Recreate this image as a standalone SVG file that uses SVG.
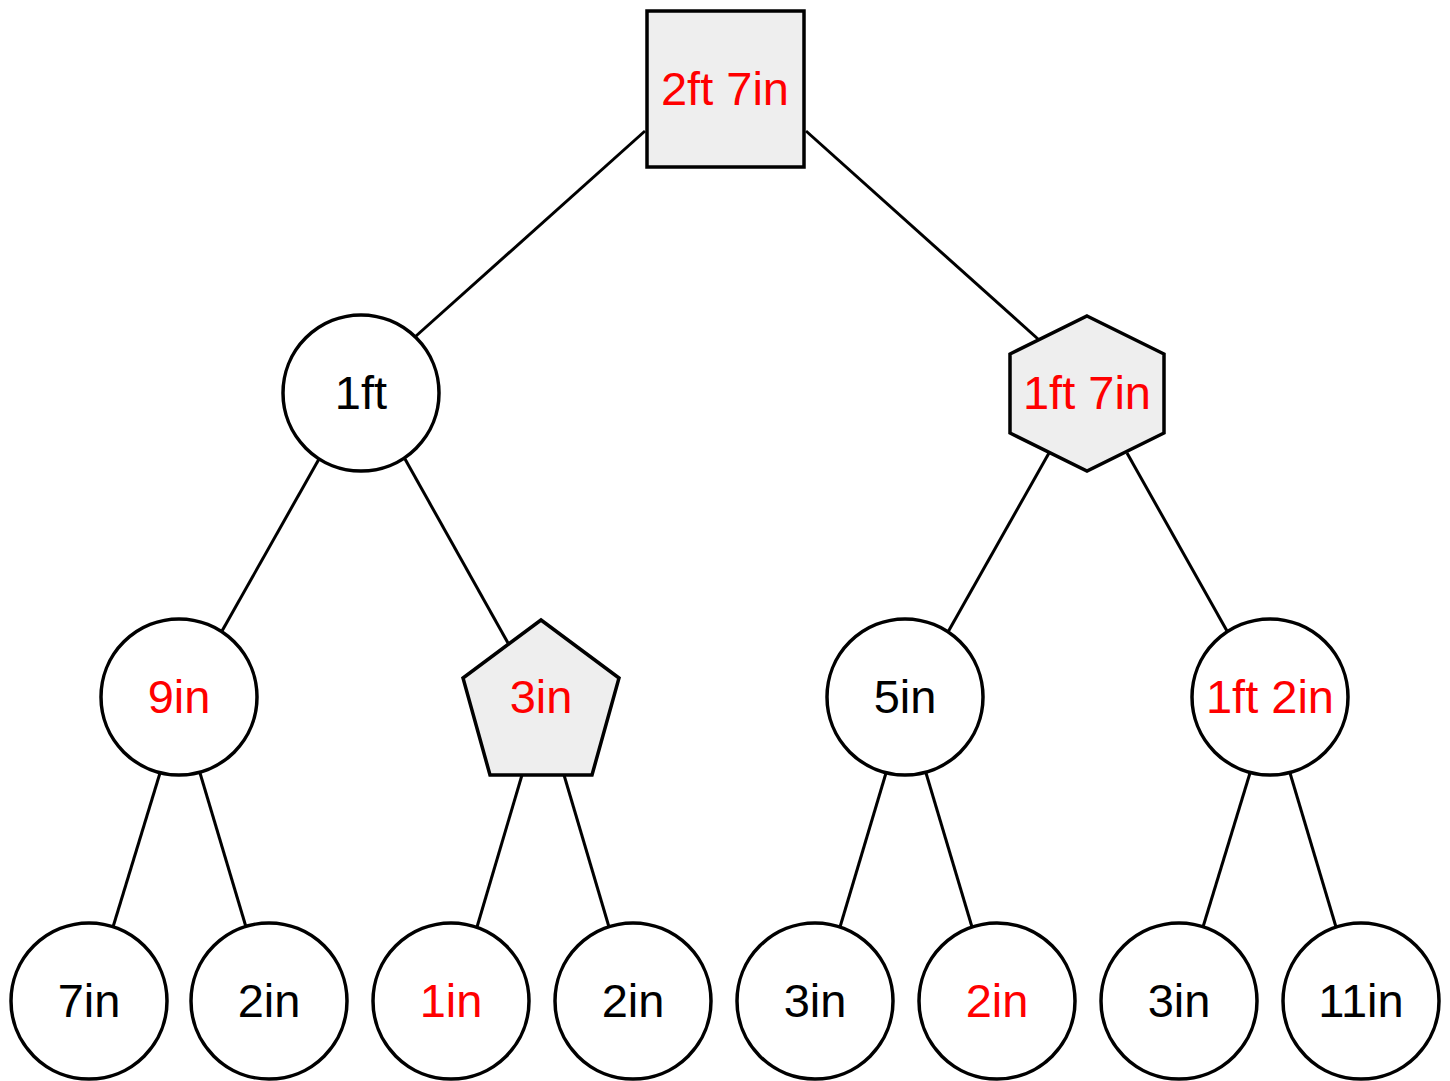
<svg xmlns="http://www.w3.org/2000/svg" width="1450" height="1081" viewBox="0 0 1450 1081">
<style>
.n{fill:#fff;stroke:#000;stroke-width:3.5}
.g{fill:#eeeeee;stroke:#000;stroke-width:3.5}
text{font-family:"Liberation Sans",Arial,sans-serif;font-size:47px;text-anchor:middle}
.r{fill:#ff0000}
.b{fill:#000}
#edges line{stroke:#000;stroke-width:3}
</style>
<rect width="1450" height="1081" fill="#fff"/>
<g id="edges">
<line x1="645" y1="131" x2="416" y2="336"/>
<line x1="806" y1="131" x2="1038" y2="339"/>
<line x1="319" y1="459" x2="222" y2="631"/>
<line x1="405" y1="459" x2="508" y2="643"/>
<line x1="1049" y1="453" x2="948" y2="632"/>
<line x1="1127" y1="453" x2="1227" y2="631"/>
<line x1="160" y1="773" x2="113" y2="927"/>
<line x1="200" y1="773" x2="246" y2="927"/>
<line x1="522" y1="775" x2="477" y2="927"/>
<line x1="564" y1="775" x2="609" y2="927"/>
<line x1="886" y1="773" x2="840" y2="927"/>
<line x1="926" y1="773" x2="972" y2="927"/>
<line x1="1250" y1="773" x2="1203" y2="927"/>
<line x1="1290" y1="773" x2="1336" y2="927"/>
</g>
<g id="root"><rect class="g" x="647" y="11" width="157" height="156"/><text class="r" x="725" y="105">2ft 7in</text></g>
<g id="n1ft"><circle class="n" cx="361" cy="393" r="78"/><text class="b" x="361" y="409">1ft</text></g>
<g id="n1ft7in"><polygon class="g" points="1087,316 1164,354 1164,433 1087,471 1010,433 1010,354"/><text class="r" x="1087" y="409">1ft 7in</text></g>
<g id="n9in"><circle class="n" cx="179" cy="697" r="78"/><text class="r" x="179" y="713">9in</text></g>
<g id="n3in"><polygon class="g" points="541,620 619,678 592,775 490,775 463,678"/><text class="r" x="541" y="713">3in</text></g>
<g id="n5in"><circle class="n" cx="905" cy="697" r="78"/><text class="b" x="905" y="713">5in</text></g>
<g id="n1ft2in"><circle class="n" cx="1270" cy="697" r="78"/><text class="r" x="1270" y="713">1ft 2in</text></g>
<g id="l1"><circle class="n" cx="89" cy="1001" r="78"/><text class="b" x="89" y="1017">7in</text></g>
<g id="l2"><circle class="n" cx="269" cy="1001" r="78"/><text class="b" x="269" y="1017">2in</text></g>
<g id="l3"><circle class="n" cx="451" cy="1001" r="78"/><text class="r" x="451" y="1017">1in</text></g>
<g id="l4"><circle class="n" cx="633" cy="1001" r="78"/><text class="b" x="633" y="1017">2in</text></g>
<g id="l5"><circle class="n" cx="815" cy="1001" r="78"/><text class="b" x="815" y="1017">3in</text></g>
<g id="l6"><circle class="n" cx="997" cy="1001" r="78"/><text class="r" x="997" y="1017">2in</text></g>
<g id="l7"><circle class="n" cx="1179" cy="1001" r="78"/><text class="b" x="1179" y="1017">3in</text></g>
<g id="l8"><circle class="n" cx="1361" cy="1001" r="78"/><text class="b" x="1361" y="1017">11in</text></g>
</svg>
